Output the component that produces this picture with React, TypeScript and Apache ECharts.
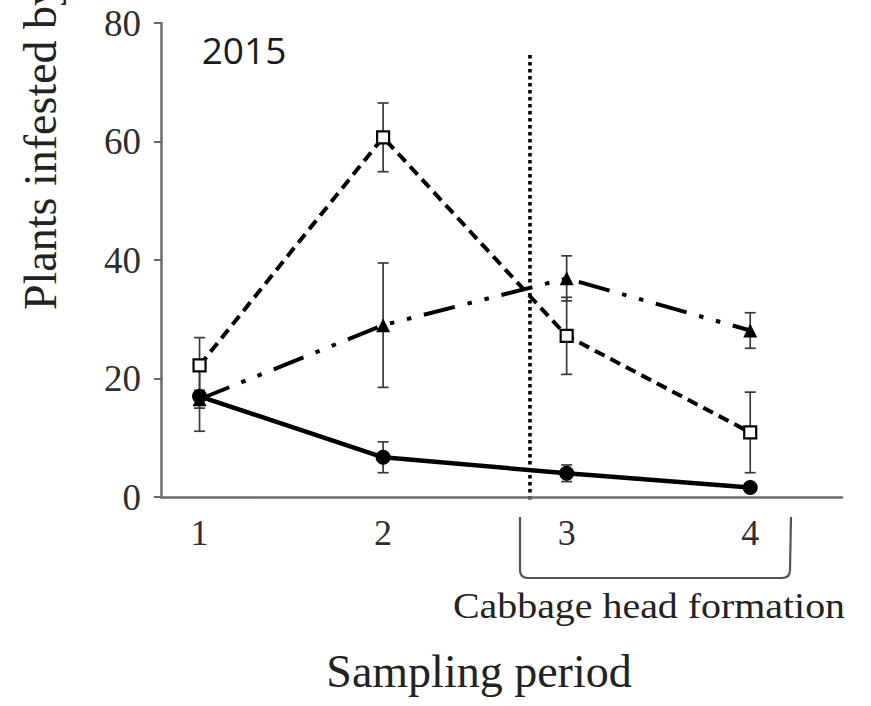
import React, { useEffect, useRef } from "react";
import * as echarts from "echarts";

const periods = [1, 2, 3, 4];
const yTicks = [0, 20, 40, 60, 80];
const circleValues = [17, 6.7, 4.0, 1.6];
const circleErrors = [5.9, 2.6, 1.4, 0];
const triangleValues = [16.5, 29, 36.9, 28.1];
const triangleErrors = [1.5, 10.5, 3.8, 3.0];
const squareValues = [22.2, 60.7, 27.2, 10.9];
const squareErrors = [4.7, 5.8, 6.5, 6.8];
const headFormationStart = 2.8;
const headFormationLineSpan = [74.6, -1];
const yearLabel = "2015";
const xAxisTitle = "Sampling period";
const yAxisTitle = "Plants infested by";
const bracketLabel = "Cabbage head formation";

const SERIF = "'Liberation Serif', 'Times New Roman', serif";

function pairs(vals: number[]) {
  return periods.map((p, i) => [p, vals[i]]);
}
function errData(vals: number[], errs: number[]) {
  return periods.map((p, i) => [p, vals[i] - errs[i], vals[i] + errs[i], errs[i]]);
}

const errStyle = { stroke: "#3a3a3a", lineWidth: 1.7 };
function renderErr(params: any, api: any) {
  const x = api.value(0);
  const lo = api.value(1);
  const hi = api.value(2);
  const e = api.value(3);
  if (!e) return null;
  const t = api.coord([x, hi]);
  const b = api.coord([x, lo]);
  const w = 5.5;
  return {
    type: "group",
    children: [
      { type: "line", shape: { x1: t[0], y1: t[1], x2: b[0], y2: b[1] }, style: errStyle },
      { type: "line", shape: { x1: t[0] - w, y1: t[1], x2: t[0] + w, y2: t[1] }, style: errStyle },
      { type: "line", shape: { x1: b[0] - w, y1: b[1], x2: b[0] + w, y2: b[1] }, style: errStyle },
    ],
  };
}

function errSeries(vals: number[], errs: number[]) {
  return {
    type: "custom",
    renderItem: renderErr,
    data: errData(vals, errs),
    encode: { x: 0, y: [1, 2] },
    z: 1,
    silent: true,
  };
}

export default function App() {
  const ref = useRef<HTMLDivElement>(null);
  useEffect(() => {
    document.body.style.margin = "0";
    if (!ref.current) return;
    echarts.graphic.registerShape(
      "bracket",
      echarts.graphic.extendPath(
        "M520 517 L520 570 Q520 578 528 578 L782 578 Q790 578 790 570 L791 517",
        {}
      )
    );
    const chart = echarts.init(ref.current, null, { renderer: "svg" });
    const option: any = {
      animation: false,
      backgroundColor: "#ffffff",
      grid: { left: 161, right: 29, top: 23, bottom: 209, containLabel: false },
      xAxis: {
        type: "value",
        min: 0.79,
        max: 4.5,
        axisLine: { show: true, lineStyle: { color: "#6b6b6b", width: 2.5 } },
        axisTick: { show: false },
        splitLine: { show: false },
        axisLabel: {
          customValues: periods,
          fontFamily: SERIF,
          fontSize: 36,
          color: "#2e2e2e",
          margin: 18,
        },
      },
      yAxis: {
        type: "value",
        min: yTicks[0],
        max: yTicks[yTicks.length - 1],
        interval: 20,
        axisLine: { show: true, lineStyle: { color: "#6b6b6b", width: 2.5 } },
        axisTick: { show: true, length: 7, lineStyle: { color: "#6b6b6b", width: 2 } },
        splitLine: { show: false },
        axisLabel: { fontFamily: SERIF, fontSize: 37, color: "#2e2e2e", margin: 20 },
      },
      series: [
        {
          type: "custom",
          silent: true,
          z: 0,
          renderItem: (params: any, api: any) => {
            const a = api.coord([api.value(0), api.value(1)]);
            const b = api.coord([api.value(0), api.value(2)]);
            return {
              type: "line",
              shape: { x1: a[0], y1: a[1], x2: b[0], y2: b[1] },
              style: { stroke: "#000", lineWidth: 3.6, lineDash: [3.4, 3.6] },
            };
          },
          data: [[headFormationStart, headFormationLineSpan[0], headFormationLineSpan[1]]],
          encode: { x: 0, y: [1, 2] },
        },
        errSeries(circleValues, circleErrors),
        errSeries(triangleValues, triangleErrors),
        errSeries(squareValues, squareErrors),
        {
          type: "line",
          data: pairs(triangleValues),
          symbol: "triangle",
          symbolSize: 14,
          itemStyle: { color: "#000" },
          lineStyle: { color: "#000", width: 4, type: [32, 13, 4.5, 13, 4.5, 13] },
          z: 3,
        },
        {
          type: "line",
          data: pairs(squareValues),
          symbol: "rect",
          symbolSize: 12,
          itemStyle: { color: "#fff", borderColor: "#000", borderWidth: 2.2 },
          lineStyle: { color: "#000", width: 4, type: [11, 6.5] },
          z: 4,
        },
        {
          type: "line",
          data: pairs(circleValues),
          symbol: "circle",
          symbolSize: 15,
          itemStyle: { color: "#000" },
          lineStyle: { color: "#000", width: 4.5 },
          z: 5,
        },
      ],
      graphic: [
        {
          type: "text",
          x: 244,
          y: 49,
          style: {
            text: yearLabel,
            font: "37px 'Open Sans', sans-serif",
            fill: "#1a1a1a",
            align: "center",
            verticalAlign: "middle",
          },
        },
        {
          type: "text",
          x: 40,
          y: 310,
          rotation: Math.PI / 2,
          style: {
            text: yAxisTitle,
            font: "46px " + SERIF,
            fill: "#222",
            align: "left",
            verticalAlign: "middle",
          },
        },
        {
          type: "bracket",
          x: 0,
          y: 0,
          style: { fill: null, stroke: "#555", lineWidth: 2.2 },
        },
        {
          type: "text",
          x: 649,
          y: 606,
          scaleX: 1.14,
          style: {
            text: bracketLabel,
            font: "35px " + SERIF,
            fill: "#222",
            align: "center",
            verticalAlign: "middle",
          },
        },
        {
          type: "text",
          x: 479,
          y: 671,
          style: {
            text: xAxisTitle,
            font: "46px " + SERIF,
            fill: "#222",
            align: "center",
            verticalAlign: "middle",
          },
        },
      ],
    };
    chart.setOption(option);
    return () => chart.dispose();
  }, []);
  return <div ref={ref} style={{ width: 871, height: 706 }} />;
}
